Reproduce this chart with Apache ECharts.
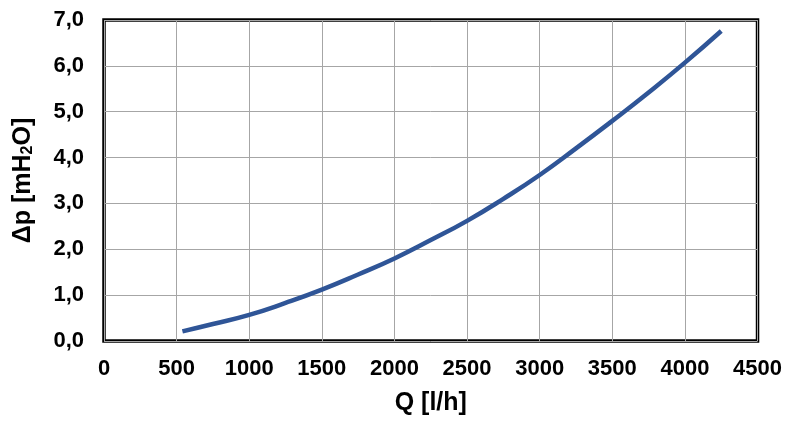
<!DOCTYPE html>
<html>
<head>
<meta charset="utf-8">
<script src="https://cdn.jsdelivr.net/npm/echarts@6/dist/echarts.min.js"></script>
<style>html,body{margin:0;padding:0;background:#fff;}#c{width:785px;height:421px;}</style>
</head>
<body>
<div id="c"></div>
<script>
const flowQ = [540, 750, 1000, 1250, 1500, 1750, 2000, 2250, 2500, 2750, 3000, 3250, 3500, 3750, 4000, 4250];
const deltaP = [0.21, 0.37, 0.57, 0.83, 1.12, 1.45, 1.80, 2.20, 2.62, 3.10, 3.62, 4.20, 4.80, 5.42, 6.07, 6.76];
const xTicks = [0, 500, 1000, 1500, 2000, 2500, 3000, 3500, 4000, 4500];
const yTicks = [0, 1, 2, 3, 4, 5, 6, 7];

const chart = echarts.init(document.getElementById('c'), null, {renderer: 'canvas'});
const font = 'Liberation Sans, Arial, sans-serif';
chart.setOption({
  animation: false,
  grid: {left: 104, right: 27, top: 20, bottom: 73, show: true, borderColor: '#000', borderWidth: 3.5, containLabel: false},
  xAxis: {
    type: 'value', min: xTicks[0], max: xTicks[xTicks.length - 1], interval: 500,
    name: 'Q [l/h]', nameLocation: 'middle', nameGap: 50,
    nameTextStyle: {fontFamily: font, fontWeight: 'bold', fontSize: 25, color: '#000'},
    axisLine: {show: false}, axisTick: {show: false},
    axisLabel: {fontFamily: font, fontWeight: 'bold', fontSize: 22, color: '#000', margin: 17,
      formatter: v => String(v)},
    splitLine: {show: true, lineStyle: {color: '#a6a6a6', width: 1}}
  },
  yAxis: {
    type: 'value', min: yTicks[0], max: yTicks[yTicks.length - 1], interval: 1,
    name: 'Δp [mH{sub|2}O]', nameLocation: 'middle', nameGap: 68, nameRotate: 90,
    nameTextStyle: {fontFamily: font, fontWeight: 'bold', fontSize: 25, color: '#000',
      rich: {sub: {fontFamily: font, fontWeight: 'bold', fontSize: 16, color: '#000', verticalAlign: 'bottom', padding: [9, 0, 0, 0]}}},
    axisLine: {show: false}, axisTick: {show: false},
    axisLabel: {fontFamily: font, fontWeight: 'bold', fontSize: 22, color: '#000', margin: 20,
      formatter: v => v.toFixed(1).replace('.', ',')},
    splitLine: {show: true, lineStyle: {color: '#a6a6a6', width: 1}}
  },
  series: [{
    type: 'line', smooth: true, showSymbol: false,
    data: flowQ.map((q, i) => [q, deltaP[i]]),
    lineStyle: {color: '#2F5597', width: 4.5}
  }]
});
</script>
</body>
</html>
